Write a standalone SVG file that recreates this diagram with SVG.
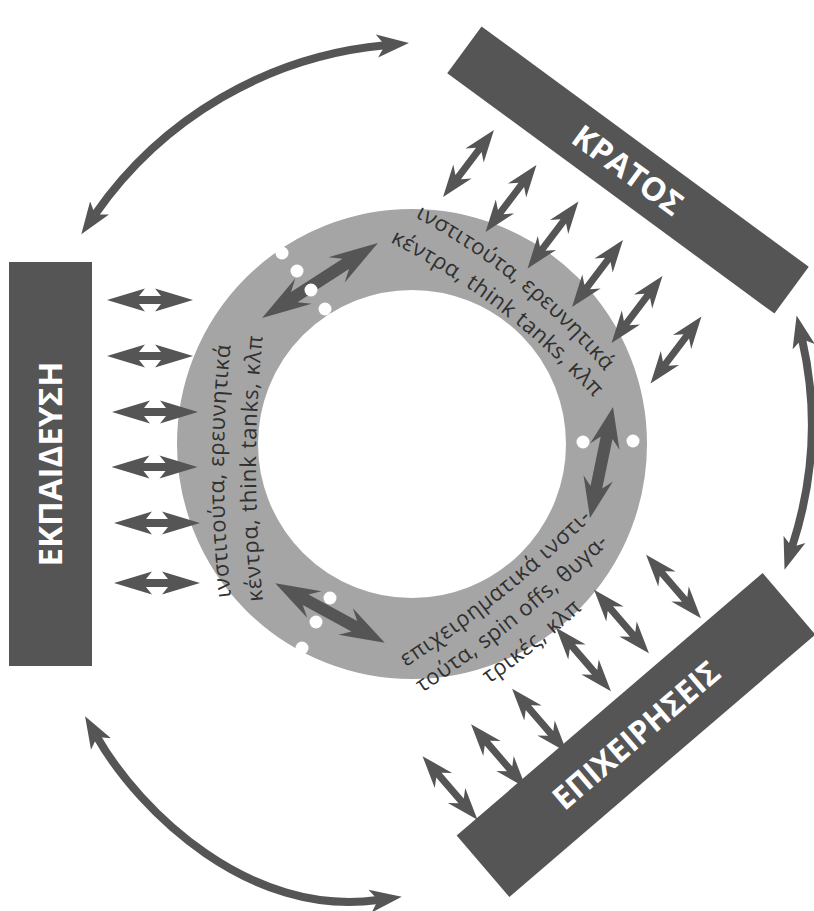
<svg xmlns="http://www.w3.org/2000/svg" width="814" height="911" viewBox="0 0 814 911">
<style>
.bar{fill:#555555}
.lbl{font-family:"Open Sans","Noto Sans","Liberation Sans",sans-serif;font-weight:bold;font-size:32px;fill:#ffffff;text-anchor:middle}
.arr{fill:#555555}
.curve{fill:none;stroke:#555555;stroke-width:8}
.ring{fill:none;stroke:#a5a5a5;stroke-width:81}
.rt{font-family:"Open Sans","Noto Sans","Liberation Sans",sans-serif;font-size:22px;fill:#303030}
.dot{fill:#ffffff}
</style>
<defs>
<marker id="ah" markerUnits="userSpaceOnUse" markerWidth="32" markerHeight="24" viewBox="0 0 32 24" refX="8" refY="12" orient="auto-start-reverse">
<path d="M0,0.5 L32,12 L0,23.5 L8,12 Z" fill="#555555"/>
</marker>
<path id="dsm" class="arr" d="M-43,0 L-5,-11.5 L-11,-4 L11,-4 L5,-11.5 L43,0 L5,11.5 L11,4 L-11,4 L-5,11.5 Z"/>
<path id="ddg" class="arr" d="M-42,0 L-10,-11.5 L-17,-3.5 L17,-3.5 L10,-11.5 L42,0 L10,11.5 L17,3.5 L-17,3.5 L-10,11.5 Z"/>
<path id="dbg" class="arr" d="M-63,0 L-18,-15 L-28,-6 L28,-6 L18,-15 L63,0 L18,15 L28,6 L-28,6 L-18,15 Z"/>
<path id="p1a" d="M415,217 Q526,277 607,374"/>
<path id="p1b" d="M390,242 Q508,302 597,401"/>
<path id="p2a" d="M231,597 Q217,469.5 231,342"/>
<path id="p2b" d="M263,601 Q249,467 263,333"/>
<path id="p3a" d="M0,0 Q120,12 240,0"/>
<path id="p3b" d="M-4,30 Q118,42 239,30"/>
<path id="p3c" d="M54,65 Q114.5,69 175,65"/>
</defs>
<rect width="814" height="911" fill="#ffffff"/>

<g id="ring">
<circle class="ring" cx="412" cy="444" r="194.5"/>
<text class="rt"><textPath href="#p1a" textLength="246" lengthAdjust="spacing">ινστιτούτα, ερευνητικά</textPath></text>
<text class="rt"><textPath href="#p1b" textLength="258" lengthAdjust="spacing">κέντρα, think tanks, κλπ</textPath></text>
<text class="rt"><textPath href="#p2a" textLength="252" lengthAdjust="spacing">ινστιτούτα, ερευνητικά</textPath></text>
<text class="rt"><textPath href="#p2b" textLength="265" lengthAdjust="spacing">κέντρα, think tanks, κλπ</textPath></text>
<g transform="translate(406,667) rotate(-38.7)">
<text class="rt"><textPath href="#p3a" textLength="238" lengthAdjust="spacing">επιχειρηματικά ινστι-</textPath></text>
<text class="rt"><textPath href="#p3b" textLength="240" lengthAdjust="spacing">τούτα, spin offs, θυγα-</textPath></text>
<text class="rt"><textPath href="#p3c" textLength="120" lengthAdjust="spacing">τρικές, κλπ</textPath></text>
</g>
</g>

<g id="ekpaideusi" transform="translate(50.5,464) rotate(-90)">
<rect class="bar" x="-202" y="-41.5" width="404" height="83"/>
<text class="lbl" x="0" y="11.5" textLength="205" lengthAdjust="spacingAndGlyphs">ΕΚΠΑΙΔΕΥΣΗ</text>
</g>

<g id="kratos" transform="translate(628,170) rotate(36.3)">
<rect class="bar" x="-203" y="-29" width="406" height="58"/>
<text class="lbl" x="0" y="11.5" textLength="128" lengthAdjust="spacingAndGlyphs">ΚΡΑΤΟΣ</text>
</g>

<g id="epixeiriseis" transform="translate(636,735) rotate(-40.6)">
<rect class="bar" x="-201.5" y="-40.5" width="403" height="81"/>
<text class="lbl" x="0" y="11.5" textLength="208" lengthAdjust="spacingAndGlyphs">ΕΠΙΧΕΙΡΗΣΕΙΣ</text>
</g>

<g id="connectors">
<path class="curve" d="M95,214.5 A398,398 0 0 1 385,45.3" marker-start="url(#ah)" marker-end="url(#ah)"/>
<path class="curve" d="M802,339 Q826,443 792,547" marker-start="url(#ah)" marker-end="url(#ah)"/>
<path class="curve" d="M97,737 C140,812 250,918 378,900" marker-start="url(#ah)" marker-end="url(#ah)"/>

<use href="#dsm" transform="translate(150,300)"/>
<use href="#dsm" transform="translate(150,356)"/>
<use href="#dsm" transform="translate(155,412)"/>
<use href="#dsm" transform="translate(154.5,467)"/>
<use href="#dsm" transform="translate(157,523)"/>
<use href="#dsm" transform="translate(157,583)"/>

<use href="#ddg" transform="translate(468.5,163.5) rotate(-52.7)"/>
<use href="#ddg" transform="translate(511,198.5) rotate(-52.7)"/>
<use href="#ddg" transform="translate(553,235) rotate(-52.7)"/>
<use href="#ddg" transform="translate(597.5,273.5) rotate(-52.7)"/>
<use href="#ddg" transform="translate(637,309.5) rotate(-52.7)"/>
<use href="#ddg" transform="translate(676,350) rotate(-52.7)"/>

<use href="#ddg" transform="translate(450,788) rotate(49.2)"/>
<use href="#ddg" transform="translate(498.5,756) rotate(49.2)"/>
<use href="#ddg" transform="translate(539.5,720.5) rotate(49.2)"/>
<use href="#ddg" transform="translate(583.5,659.5) rotate(49.2)"/>
<use href="#ddg" transform="translate(621.5,621.5) rotate(49.2)"/>
<use href="#ddg" transform="translate(673.5,586.5) rotate(49.2)"/>

<use href="#dbg" transform="translate(320,280.5) rotate(-32.9) scale(1.095,1)"/>
<use href="#dbg" transform="translate(601.5,462.5) rotate(101.7) scale(0.9,1)"/>
<use href="#dbg" transform="translate(330,613) rotate(28.6) scale(0.99,1)"/>
</g>

<g id="ring-dots">
<circle class="dot" cx="282" cy="253" r="6.5"/>
<circle class="dot" cx="297" cy="271" r="6.5"/>
<circle class="dot" cx="311" cy="290" r="6.5"/>
<circle class="dot" cx="325" cy="309" r="6.5"/>
<circle class="dot" cx="583" cy="442" r="6.5"/>
<circle class="dot" cx="633" cy="441" r="6.5"/>
<circle class="dot" cx="330" cy="598" r="6.5"/>
<circle class="dot" cx="316" cy="622" r="6.5"/>
<circle class="dot" cx="302" cy="648" r="6.5"/>
</g>
</svg>
